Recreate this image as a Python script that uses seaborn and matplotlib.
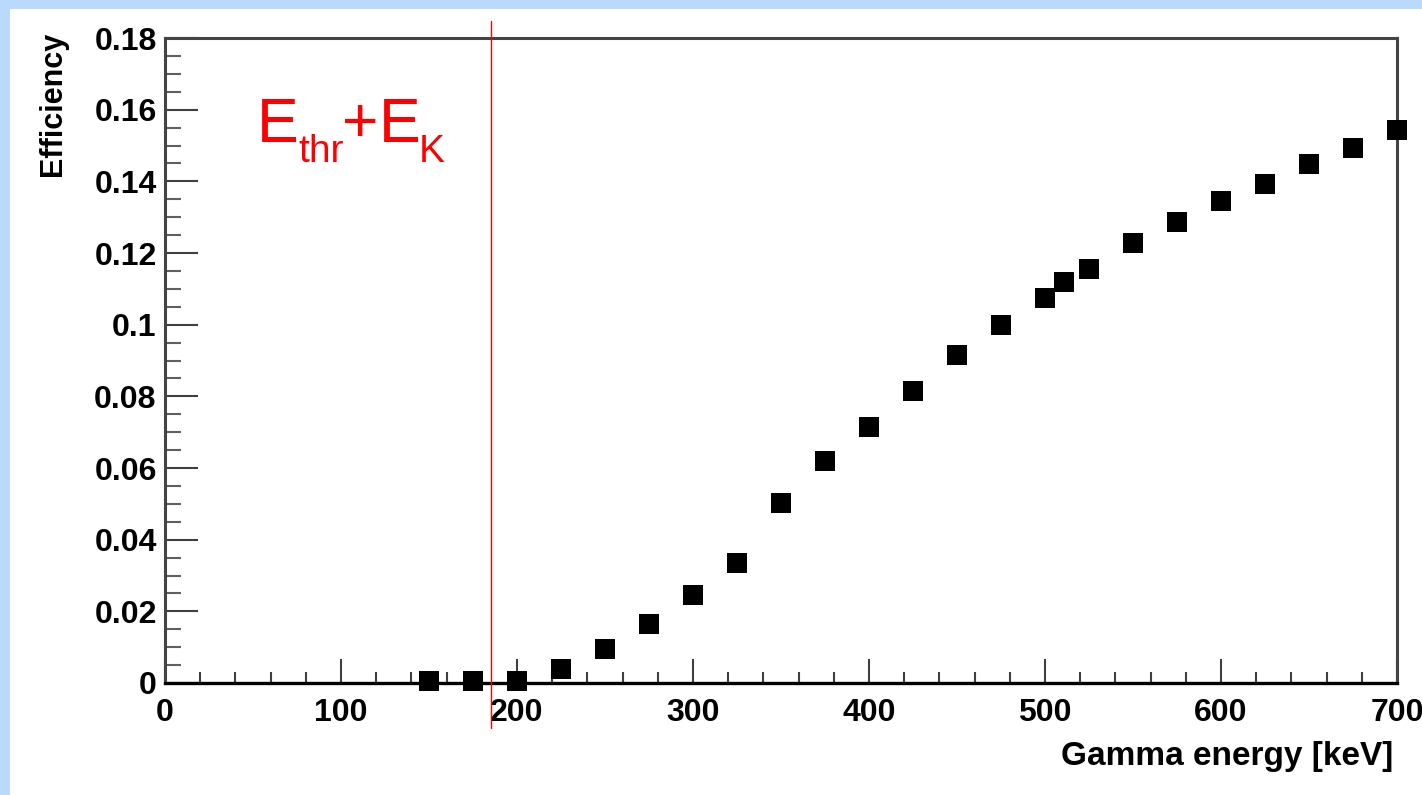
import matplotlib
matplotlib.use("Agg")
import matplotlib.pyplot as plt
from matplotlib.patches import Rectangle
from matplotlib.ticker import MultipleLocator
import seaborn as sns
import pandas as pd

# Gamma energies [keV] and measured detection efficiency
energy_kev = [150, 175, 200, 225, 250, 275, 300, 325, 350, 375, 400, 425,
              450, 475, 500, 511, 525, 550, 575, 600, 625, 650, 675, 700]
efficiency = [0.0005, 0.0005, 0.0006, 0.0038, 0.0094, 0.0165, 0.0245, 0.0335,
              0.0502, 0.0620, 0.0714, 0.0816, 0.0915, 0.0999, 0.1075, 0.1118,
              0.1155, 0.1228, 0.1287, 0.1344, 0.1393, 0.1449, 0.1492, 0.1544]

# Threshold plus K-shell binding energy [keV]
threshold_kev = 185

x_ticks = [0, 100, 200, 300, 400, 500, 600, 700]
y_ticks = [0, 0.02, 0.04, 0.06, 0.08, 0.1, 0.12, 0.14, 0.16, 0.18]
y_tick_labels = ["0", "0.02", "0.04", "0.06", "0.08", "0.1", "0.12", "0.14", "0.16", "0.18"]

df = pd.DataFrame({"energy": energy_kev, "eff": efficiency})

sns.set_style("ticks")
plt.rcParams["font.family"] = ["Liberation Sans", "DejaVu Sans"]
plt.rcParams["axes.labelcolor"] = "black"

fig = plt.figure(figsize=(14.22, 7.95), dpi=100)
fig.patch.set_facecolor("white")

# light blue slide frame along the top and left edges
W, H = 1422, 795
fig.patches.append(Rectangle((0, 1 - 9 / H), 1, 9 / H, transform=fig.transFigure,
                             facecolor="#b9d9fd", edgecolor="none", zorder=0))
fig.patches.append(Rectangle((0, 0), 10 / W, 1, transform=fig.transFigure,
                             facecolor="#b9d9fd", edgecolor="none", zorder=0))

ax = fig.add_axes([165 / W, 1 - 683 / H, (1397 - 165) / W, (683 - 38) / H])

sns.scatterplot(data=df, x="energy", y="eff", ax=ax, marker="s", s=14 ** 2,
                color="black", linewidth=0, clip_on=False, zorder=5, legend=False)

ax.set_xlim(0, 700)
ax.set_ylim(0, 0.18)

ax.axvline(threshold_kev, ymin=-0.07, ymax=1.026, color="#ff0000", lw=1.0,
           clip_on=False, zorder=6)

# "E_thr + E_K" label, built piecewise so the subscripts sit small and low
red = "#ff0000"
big, small = 45, 28
t_e1 = ax.text(52, 0.1510, "E", color=red, fontsize=big, ha="left", va="baseline")
t_thr = ax.annotate("thr", xy=(1, 0), xycoords=t_e1, xytext=(0, -5),
                    textcoords="offset points", color=red, fontsize=small,
                    ha="left", va="baseline")
t_plus = ax.annotate("+", xy=(1, 0), xycoords=(t_thr, t_e1), xytext=(-1, 0),
                     textcoords="offset points", color=red, fontsize=big,
                     ha="left", va="bottom")
t_e2 = ax.annotate("E", xy=(1, 0), xycoords=(t_plus, t_e1), xytext=(0, 0),
                   textcoords="offset points", color=red, fontsize=big,
                   ha="left", va="bottom")
ax.annotate("K", xy=(1, 0), xycoords=t_e2, xytext=(-1.5, -5),
            textcoords="offset points", color=red, fontsize=small,
            ha="left", va="baseline")

ax.set_xticks(x_ticks)
ax.set_yticks(y_ticks)
ax.set_yticklabels(y_tick_labels)
ax.xaxis.set_minor_locator(MultipleLocator(20))
ax.yaxis.set_minor_locator(MultipleLocator(0.005))

ax.tick_params(axis="both", which="both", direction="in", top=False, right=False,
               labelsize=23, colors="#404040", labelcolor="black")
ax.tick_params(axis="y", which="major", length=24, width=1.5, pad=6)
ax.tick_params(axis="y", which="minor", length=11.5, width=1.5, colors="#606060")
ax.tick_params(axis="x", which="major", length=17, width=1.5, pad=11)
ax.tick_params(axis="x", which="minor", length=8, width=1.5)
for lbl in ax.get_xticklabels() + ax.get_yticklabels():
    lbl.set_fontweight("bold")

for side in ["left", "top", "right"]:
    ax.spines[side].set_color("#444444")
    ax.spines[side].set_linewidth(2.2)
ax.spines["bottom"].set_color("black")
ax.spines["bottom"].set_linewidth(2.4)

ax.set_xlabel("Gamma energy [keV]", fontsize=24, fontweight="bold", loc="right")
ax.set_ylabel("Efficiency", fontsize=22, fontweight="bold", loc="top")
ax.xaxis.set_label_coords(0.997, -0.09)
ax.yaxis.set_label_coords(-0.079, 1.01)

fig.savefig("out.png", dpi=100, facecolor="white")
